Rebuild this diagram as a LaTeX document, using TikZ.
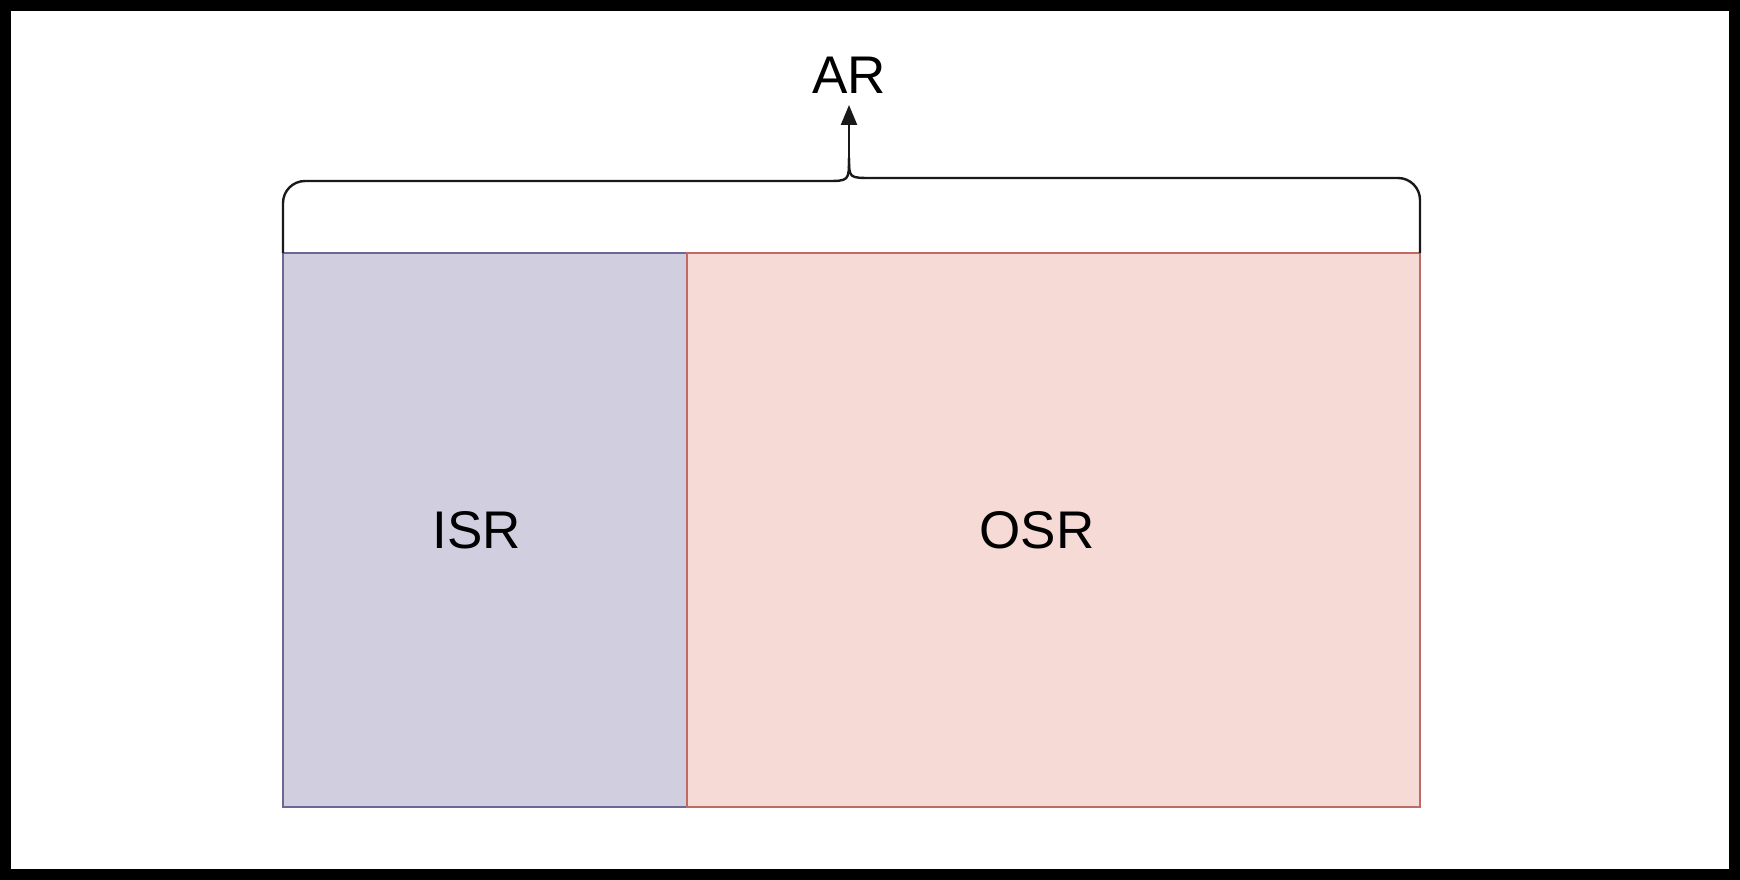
\documentclass[tikz,border=0pt]{standalone}
\usepackage{fontspec}
\setmainfont{Liberation Sans}
\usetikzlibrary{arrows.meta}
\definecolor{isrfill}{HTML}{D1CEE0}
\definecolor{isrline}{HTML}{6C6895}
\definecolor{osrfill}{HTML}{F5DAD6}
\definecolor{osrline}{HTML}{BF6B63}
\tikzset{
  region/.style={draw, line width=2pt, minimum height=554pt, inner sep=0pt, outer sep=0pt},
  bracepath/.style={draw=black!90, line width=2.4pt},
  labeltext/.style={font=\fontsize{53}{60}\selectfont, inner sep=0pt}
}
\begin{document}
\begin{tikzpicture}[x=1pt,y=-1pt]
\useasboundingbox (0,0) rectangle (1740,880);
\fill[white] (0,0) rectangle (1740,880);
\draw[line width=11pt] (5.5,5.5) rectangle (1734.5,874.5);
\node[region, fill=isrfill, draw=isrline, minimum width=404pt, anchor=north west] (ISR) at (283,253) {};
\node[region, fill=osrfill, draw=osrline, minimum width=733pt, anchor=north west] (OSR) at (687,253) {};
\node[labeltext] (ISRt) at (477,530) {ISR};
\node[labeltext] (OSRt) at (1037,530) {OSR};
\node[labeltext, anchor=base] (AR) at (849,94) {AR};
\coordinate (J) at (849,158);
\coordinate (tip) at (849,105);
\draw[bracepath, rounded corners=22pt] (ISR.north west) -- (283,181) -- (826,181);
\draw[bracepath] (826,181) .. controls (849,181) .. (J);
\draw[bracepath] (J) .. controls (849,178) .. (872,178);
\draw[bracepath, rounded corners=22pt] (872,178) -- (1420,178) -- (OSR.north east);
\draw[bracepath, -{Triangle[length=20pt,width=16pt]}] (J) -- (tip);
\end{tikzpicture}
\end{document}
